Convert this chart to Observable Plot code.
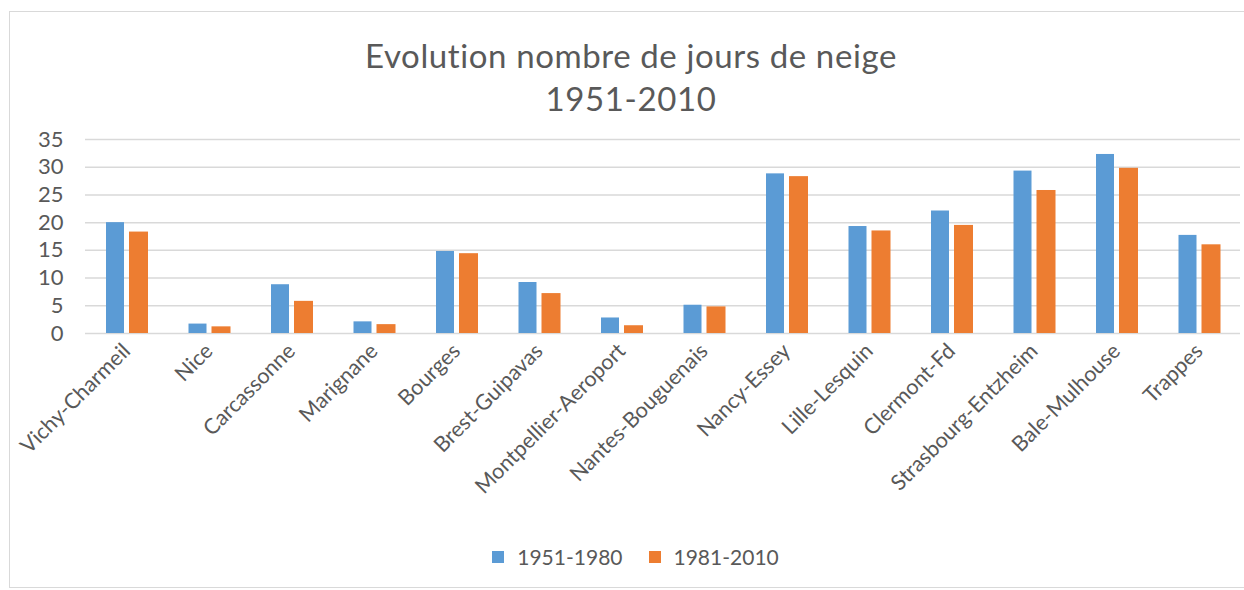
<!DOCTYPE html>
<html><head><meta charset="utf-8">
<script src="https://cdn.jsdelivr.net/npm/d3@7"></script>
<script src="https://cdn.jsdelivr.net/npm/@observablehq/plot@0.6"></script>
<style>
body{margin:0;background:#fff;font-family:Lato, sans-serif;}
#wrap{position:relative;width:1244px;height:590px;overflow:hidden;background:#fff;}
#frame{position:absolute;left:9px;top:11px;width:1240px;height:577px;border:1px solid #d9d9d9;box-sizing:border-box;}
#title{position:absolute;left:0;top:34px;width:1262px;text-align:center;color:#595959;font-size:33px;letter-spacing:0.6px;line-height:43px;}
#chart{position:absolute;left:0;top:125px;}
#legend{position:absolute;left:0;top:545px;width:1271px;display:flex;justify-content:center;gap:26px;color:#595959;font-size:21px;line-height:24px;}
#legend span.item{display:flex;align-items:center;gap:13px;}
#legend i{display:inline-block;width:12px;height:12px;}
</style>
</head><body>
<div id="wrap">
  <div id="frame"></div>
  <div id="title">Evolution nombre de jours de neige<br>1951-2010</div>
  <div id="chart"></div>
  <div id="legend"></div>
</div>
<script>
const stations = ["Vichy-Charmeil","Nice","Carcassonne","Marignane","Bourges","Brest-Guipavas","Montpellier-Aeroport","Nantes-Bouguenais","Nancy-Essey","Lille-Lesquin","Clermont-Fd","Strasbourg-Entzheim","Bale-Mulhouse","Trappes"];
const v1951_1980 = [20.0, 1.7, 8.8, 2.1, 14.8, 9.2, 2.8, 5.1, 28.8, 19.3, 22.1, 29.3, 32.3, 17.7];
const v1981_2010 = [18.3, 1.2, 5.8, 1.6, 14.4, 7.2, 1.4, 4.8, 28.3, 18.5, 19.5, 25.8, 29.8, 16.0];
const periods = ["1951-1980","1981-2010"];
const colors = ["#5b9bd5","#ed7d31"];
const yTicks = [0,5,10,15,20,25,30,35];

const d1 = stations.map((s,i)=>({station:s, period:periods[0], value:v1951_1980[i]}));
const d2 = stations.map((s,i)=>({station:s, period:periods[1], value:v1981_2010[i]}));

const chart = Plot.plot({
  width:1244, height:400,
  marginLeft:85, marginRight:4, marginTop:14, marginBottom:192,
  x:{domain:stations, padding:0, round:false, label:null},
  y:{domain:[0,35], label:null},
  color:{domain:periods, range:colors},
  style:{fontFamily:"Lato, sans-serif", color:"#595959", background:"transparent"},
  marks:[
    Plot.gridY(yTicks, {stroke:"#d9d9d9", strokeOpacity:1, strokeWidth:1.5}),
    Plot.barY(d1, {x:"station", y:"value", fill:"period", insetLeft:21, insetRight:43.5}),
    Plot.barY(d2, {x:"station", y:"value", fill:"period", insetLeft:44, insetRight:19.5}),
    Plot.axisY(yTicks, {tickSize:0, tickPadding:22, fontSize:22, fill:"#595959", label:null}),
    Plot.axisX({tickRotate:-45, tickSize:0, tickPadding:14, fontSize:21.5, fill:"#595959", label:null})
  ]
});
document.getElementById("chart").appendChild(chart);

const leg = document.getElementById("legend");
periods.forEach((p,i)=>{
  const it = document.createElement("span");
  it.className = "item";
  const sw = document.createElement("i");
  sw.style.background = colors[i];
  it.appendChild(sw);
  it.appendChild(document.createTextNode(p));
  leg.appendChild(it);
});
</script>
</body></html>
